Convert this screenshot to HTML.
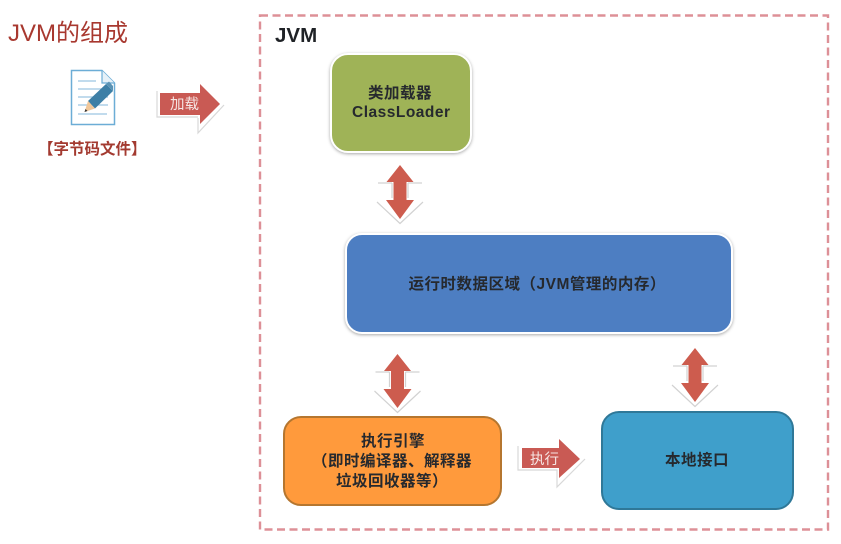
<!DOCTYPE html>
<html><head><meta charset="utf-8">
<style>
html,body{margin:0;padding:0;background:#fff}
body{width:841px;height:544px;position:relative;overflow:hidden;font-family:"Liberation Sans","Noto Sans CJK SC",sans-serif}
#w{position:absolute;left:0;top:0;width:841px;height:544px;filter:blur(.35px)}
.t{position:absolute;white-space:nowrap}
.box{position:absolute;box-sizing:border-box}
.lbl{position:absolute;white-space:nowrap;font-weight:bold;color:#26292e;font-size:15.5px;line-height:20px;letter-spacing:.5px}
svg{position:absolute;left:0;top:0}
</style></head><body><div id="w">
<svg width="841" height="544" viewBox="0 0 841 544">
<defs>
<g id="v">
<path d="M-22 -11 H-7 V7 H-23 L0 29 L23 7 H7 V-11 H22 L0 -31 Z" fill="#fff"/>
<path d="M-22 -11 H-8 M8 -11 H22 M-8 -11 V4 M8 -11 V4 M-23 8 L0 29.500 L23 8" fill="none" stroke="#d2d2d2" stroke-width="1.200"/>
<path d="M0 -29 L13.500 -12 L6.500 -12 L6.500 6 L14 6 L0 25 L-14 6 L-6.500 6 L-6.500 -12 L-13.500 -12 Z" fill="#cd5c4e"/>
</g>
</defs>
<rect x="260" y="15.500" width="568" height="514" fill="none" stroke="#dd9097" stroke-width="2.400" stroke-dasharray="8 4.500"/>

<!-- document icon -->
<path d="M71.500 70.500 H102 L114.500 83 V124.500 H71.500 Z" fill="#fff" stroke="#6cadd6" stroke-width="1.500"/>
<path d="M102 70.500 V83 H114.500" fill="#e6f1f8" stroke="#6cadd6" stroke-width="1.200"/>
<g stroke="#9cc5e2" stroke-width="1.300">
<line x1="78" y1="81" x2="96" y2="81"/><line x1="78" y1="89" x2="108" y2="89"/><line x1="78" y1="97" x2="108" y2="97"/>
<line x1="78" y1="105" x2="108" y2="105"/><line x1="78" y1="114" x2="107" y2="114"/>
</g>
<path d="M88 101 L106 84 L113 91 L95 108.500 Z" fill="#3d7fa6"/>
<path d="M106 84 L109 81.500 L113 86 L113 91 Z" fill="#5a93b5"/>
<path d="M88 101 L95 108.500 L84.500 112 Z" fill="#f0c79a"/>
<path d="M85.500 109 L87.500 111 L84.500 112 Z" fill="#333"/>

<!-- load arrow -->
<path d="M157 91 H197 V79 L224 105 L198 133 V118 H157 Z" fill="#fff"/>
<path d="M157 91 V117 H198 M198 118 V133 L224 105" fill="none" stroke="#d8d8d8" stroke-width="1.200"/>
<path d="M160 93 H200 V84 L220 104 L200 124 V115 H160 Z" fill="#c95a54"/>

<!-- exec arrow -->
<path d="M518 446 H557 V434 L585 459 L557 487 V471 H518 Z" fill="#fff"/>
<path d="M518 446 V470 H557 V487 L585 459" fill="none" stroke="#d8d8d8" stroke-width="1.200"/>
<path d="M522 448 H559 V439 L580 459 L559 478 V468 H522 Z" fill="#c95a54"/>

<use href="#v" x="400" y="194"/>
<use href="#v" x="397.500" y="383"/>
<use href="#v" x="695" y="377"/>
</svg>

<div class="t" style="left:8px;top:18px;font-size:24px;line-height:32px;color:#a8382f">JVM的组成</div>
<div class="t" style="left:38px;top:139px;font-size:15.500px;line-height:22px;color:#a33a30;font-weight:bold">【字节码文件】</div>
<div class="t" style="left:170px;top:96px;font-size:14.500px;line-height:18px;color:#f6e6e4">加载</div>
<div class="t" style="left:530px;top:451px;font-size:14.500px;line-height:18px;color:#f6e6e4">执行</div>
<div class="t" style="left:275px;top:24px;font-size:20.500px;line-height:24px;font-weight:bold;color:#1f2226">JVM</div>

<div class="box" style="left:330px;top:53px;width:142px;height:100px;background:#9fb357;border:2.500px solid #fff;border-radius:18px;box-shadow:0 1px 3px #a8a8a8"></div>
<div class="box" style="left:345px;top:233px;width:388px;height:101px;background:#4d7ec2;border:2.500px solid #fff;border-radius:17px;box-shadow:0 1px 3px #a8a8a8"></div>
<div class="box" style="left:283px;top:416px;width:219px;height:90px;background:#ff9a3c;border:2px solid #b5762f;border-radius:18px"></div>
<div class="box" style="left:601px;top:411px;width:193px;height:99px;background:#3f9fcb;border:2px solid #2f7898;border-radius:18px"></div>

<div class="lbl" style="left:368px;top:84px">类加载器</div>
<div class="lbl" style="left:352px;top:103px">ClassLoader</div>
<div class="lbl" style="left:408.500px;top:275px">运行时数据区域（JVM管理的内存）</div>
<div class="lbl" style="left:361px;top:432px">执行引擎</div>
<div class="lbl" style="left:312px;top:452px">（即时编译器、解释器</div>
<div class="lbl" style="left:336px;top:472px">垃圾回收器等）</div>
<div class="lbl" style="left:665px;top:451px">本地接口</div>
</div></body></html>
